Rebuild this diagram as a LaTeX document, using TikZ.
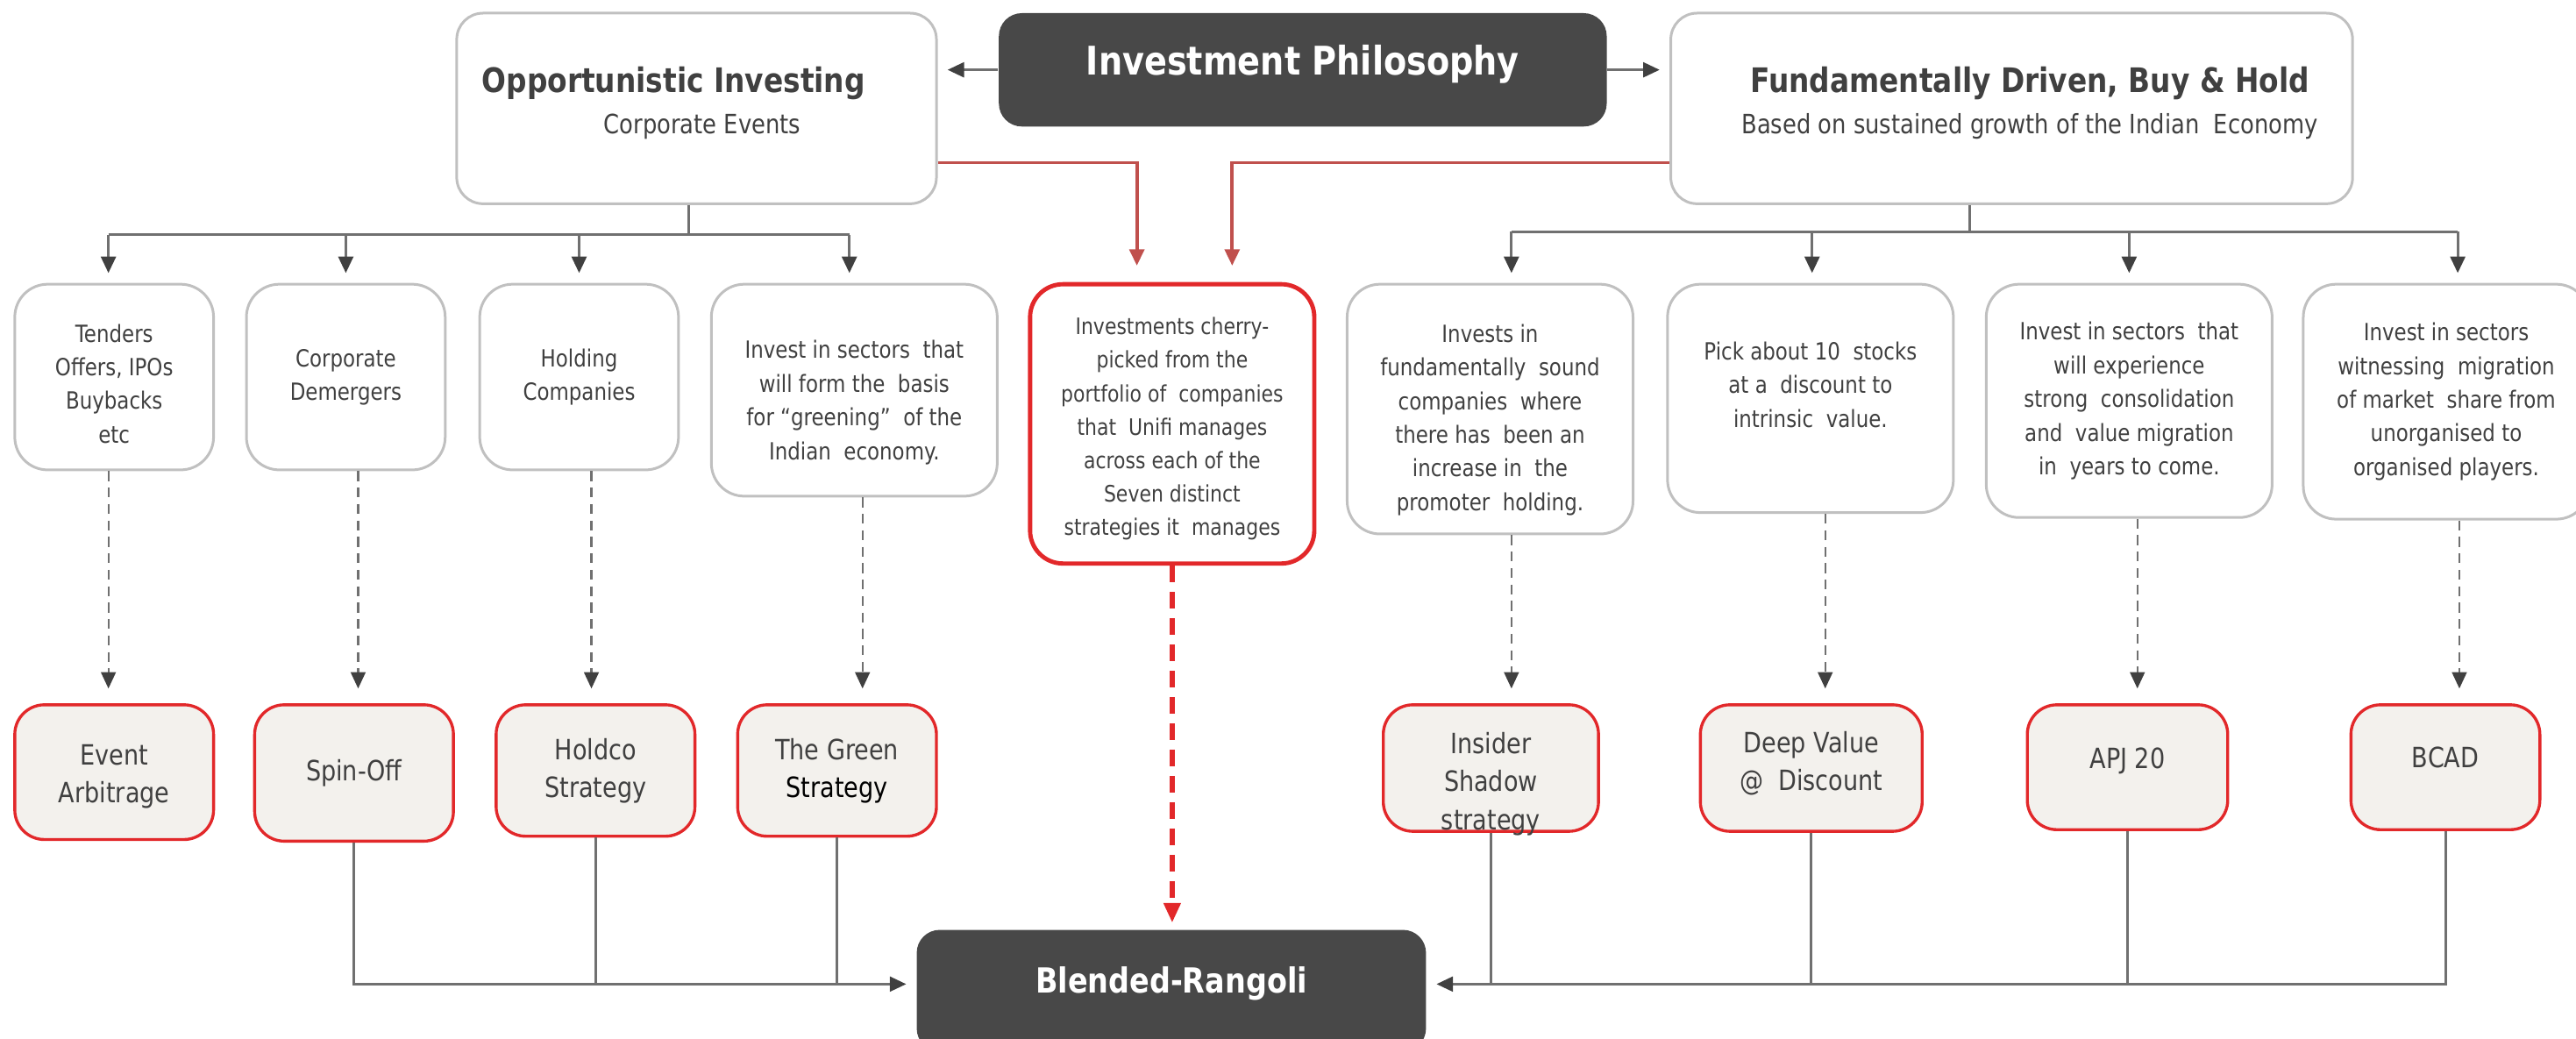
\documentclass[tikz,border=0pt]{standalone}
\usepackage{fontspec}
\setmainfont[FakeStretch=0.85]{DejaVu Sans}
\usetikzlibrary{arrows.meta}
\definecolor{boxdark}{RGB}{72,72,72}
\definecolor{txtgray}{RGB}{64,64,64}
\definecolor{boxline}{RGB}{192,192,192}
\definecolor{redline}{RGB}{226,40,42}
\definecolor{arrowred}{RGB}{192,80,77}
\definecolor{stratfill}{RGB}{243,241,237}
\definecolor{linegray}{RGB}{112,112,112}
\definecolor{tipgray}{RGB}{64,64,64}

\begin{document}
\begin{tikzpicture}[x=0.5pt,y=-0.5pt,
  headbox/.style={draw=boxline,line width=0.8pt,rounded corners=8pt,text=txtgray,align=center,font=\fontsize{8.1}{12.5}\selectfont},
  darkbox/.style={fill=boxdark,rounded corners=7pt,text=white,font=\bfseries\fontsize{12}{14}\selectfont},
  descbox/.style={draw=boxline,line width=0.8pt,rounded corners=10pt,text=txtgray,align=center,font=\fontsize{7.2}{10.25}\selectfont,minimum width=60.5pt},
  cherrybox/.style={draw=redline,line width=1.3pt,rounded corners=10pt,text=txtgray,align=center,font=\fontsize{6.9}{10.2}\selectfont},
  stratbox/.style={draw=redline,line width=0.9pt,fill=stratfill,rounded corners=9pt,text=txtgray,align=center,font=\fontsize{8.5}{11.5}\selectfont},
  link/.style={draw=linegray,line width=0.8pt},
  tipe/.style={-{Triangle[length=5pt,width=4.5pt,color=tipgray]},shorten >=3pt},
  dashlink/.style={draw=linegray,line width=0.6pt,dash pattern=on 3pt off 2pt,-{Triangle[length=5pt,width=4.5pt,color=tipgray]},shorten >=4.5pt},
  redarrow/.style={draw=arrowred,line width=1pt,-{Triangle[length=5pt,width=4.5pt]},shorten >=5pt},
  reddash/.style={draw=redline,line width=1.4pt,dash pattern=on 5pt off 3pt,-{Triangle[length=6pt,width=5pt]},shorten >=2pt}]
\useasboundingbox (0,0) rectangle (1568,632);

\node at (424,66)[headbox,minimum width=146pt,minimum height=58pt] (Opp) {{\bfseries\fontsize{10.3}{12.5}\selectfont Opportunistic Investing\hspace*{14pt}}\\\hspace*{3.5pt}Corporate Events\rule[-5pt]{0pt}{0pt}};
\node at (793,42.5)[darkbox,minimum width=185pt,minimum height=34.5pt,text height=9.1pt,text depth=5.9pt] (Phil) {Investment Philosophy};
\node at (1224.5,66)[headbox,minimum width=207.5pt,minimum height=58pt] (Fund) {\hspace*{11pt}{\bfseries\fontsize{10.3}{12.5}\selectfont Fundamentally Driven, Buy \& Hold}\\\hspace*{11pt}Based on sustained growth of the Indian\ \ Economy\rule[-5pt]{0pt}{0pt}};

\node at (69.5,229.5)[descbox,minimum height=56.5pt] (Ten) {\rule{0pt}{9.5pt}Tenders\\Offers, IPOs\\Buybacks\\etc};
\node at (210.5,229.5)[descbox,minimum height=56.5pt] (Dem) {Corporate\\Demergers};
\node at (352.5,229.5)[descbox,minimum height=56.5pt] (Hold) {Holding\\Companies};
\node at (520,237.5)[descbox,minimum width=87pt,minimum height=64.5pt] (Grn) {\rule{0pt}{13pt}Invest in sectors\ \ that\\will form the\ \ basis\\for “greening”\ \ of the\\Indian\ \ economy.};
\node at (713.5,258)[cherrybox,minimum width=86.5pt,minimum height=85pt] (Cherry) {\rule{0pt}{8.3pt}Investments cherry-\\picked from the\\portfolio of\ \ companies\\that\ \ Unifi manages\\across each of the\\Seven distinct\\strategies it\ \ manages};
\node at (907,249)[descbox,minimum width=87pt,minimum height=76pt] (Ins) {\rule{0pt}{12pt}Invests in\\fundamentally\ \ sound\\companies\ \ where\\there has\ \ been an\\increase in\ \ the\\promoter\ \ holding.};
\node at (1102,242.5)[descbox,minimum width=87pt,minimum height=69.5pt] (Pick) {Pick about 10\ \ stocks\\at a\ \ discount to\\intrinsic\ \ value.\rule[-8.5pt]{0pt}{0pt}};
\node at (1296,244)[descbox,minimum width=87pt,minimum height=71pt] (Cons) {Invest in sectors\ \ that\\will experience\\strong\ \ consolidation\\and\ \ value migration\\in\ \ years to come.};
\node at (1489,244.5)[descbox,minimum width=87pt,minimum height=71.5pt] (Migr) {Invest in sectors\\witnessing\ \ migration\\of market\ \ share from\\unorganised to\\organised players.};

\node at (69.5,470)[stratbox,minimum width=60.5pt,minimum height=41pt] (EA) {\rule{0pt}{9.1pt}Event\\Arbitrage};
\node at (215.5,470.5)[stratbox,minimum width=60.5pt,minimum height=41.5pt] (SO) {Spin-Off};
\node at (362.5,469)[stratbox,minimum width=60.5pt,minimum height=40pt] (HS) {Holdco\\Strategy};
\node at (509.5,469)[stratbox,minimum width=60.5pt,minimum height=40pt] (GS) {The Green\\\textcolor{black}{Strategy}};
\node at (907.5,467.5)[stratbox,minimum width=65.5pt,minimum height=38.5pt,inner ysep=0.5pt] (ISS) {\rule{0pt}{14.4pt}Insider\\Shadow\\\smash{strategy}};
\node at (1102.5,467.5)[stratbox,minimum width=67.5pt,minimum height=38.5pt] (DV) {Deep Value\\@\ \ Discount\rule[-4.5pt]{0pt}{0pt}};
\node at (1295,467)[stratbox,minimum width=61pt,minimum height=38pt] (APJ) {APJ 20\rule[-5.5pt]{0pt}{0pt}};
\node at (1488.5,467)[stratbox,minimum width=57.5pt,minimum height=38pt] (BC) {BCAD\rule[-6pt]{0pt}{0pt}};

\node at (713,603)[darkbox,font=\bfseries\fontsize{10.5}{12}\selectfont,minimum width=155pt,minimum height=37pt,text height=7.8pt,text depth=6.4pt] (Blend) {Blended-Rangoli};

\draw[link,tipe] (Phil.west) -- (Phil.west -| Opp.east);
\draw[link,tipe] (Phil.east) -- (Phil.east -| Fund.west);
\draw[redarrow] ([yshift=-16.5pt]Opp.east) -| ([xshift=-10.75pt]Cherry.north);
\draw[redarrow] ([yshift=-16.5pt]Fund.west) -| ([xshift=18.25pt]Cherry.north);

\coordinate (LB) at (419,143);
\coordinate (RB) at (1199,141);
\draw[link] (LB |- Opp.south) -- (LB);
\draw[link] (RB |- Fund.south) -- (RB);
\foreach \n/\s/\b in {Ten/-1.75/LB,Dem/0/LB,Hold/0/LB,Grn/-1.5/LB,Ins/6.5/RB,Pick/0.5/RB,Cons/0/RB,Migr/3.5/RB}{
  \path ([xshift=\s pt]\n.north) coordinate (t\n);
  \draw[link,tipe] (t\n |- \b) -- (t\n);
}
\draw[link] (tTen |- LB) -- (tGrn |- LB);
\draw[link] (tIns |- RB) -- (tMigr |- RB);

\foreach \a/\b/\s in {Ten/EA/-1.75,Dem/SO/3.75,Hold/HS/3.75,Grn/GS/2.5,Ins/ISS/6.5,Pick/DV/4.5,Cons/APJ/2.5,Migr/BC/4}{
  \path ([xshift=\s pt]\a.south) coordinate (d\a);
  \draw[dashlink] (d\a) -- (d\a |- \b.north);
}
\draw[reddash] (Cherry.south) -- (Cherry.south |- Blend.north);

\coordinate (BY) at ([yshift=2pt]Blend.west);
\coordinate (BZ) at ([yshift=2pt]Blend.east);
\draw[link,tipe] (SO.south) |- (BY);
\foreach \n in {HS,GS}
  \draw[link] (\n.south) -- (\n.south |- BY);
\draw[link,tipe] (BC.south) |- (BZ);
\foreach \n in {ISS,DV,APJ}
  \draw[link] (\n.south) -- (\n.south |- BZ);
\end{tikzpicture}
\end{document}
